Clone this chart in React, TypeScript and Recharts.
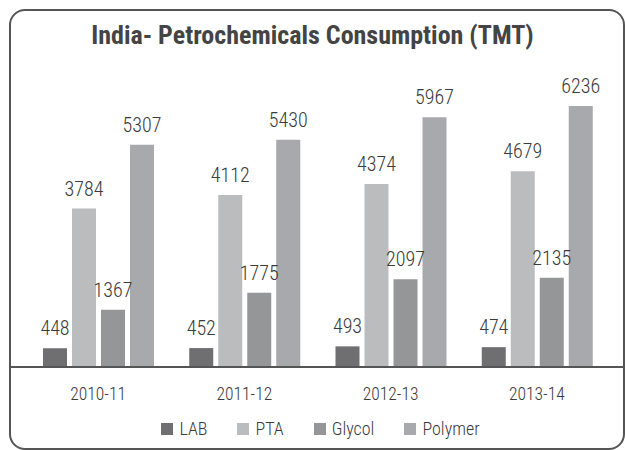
import { BarChart, Bar, XAxis, YAxis, LabelList } from "recharts";

const years = ["2010-11", "2011-12", "2012-13", "2013-14"];
const lab = [448, 452, 493, 474];
const pta = [3784, 4112, 4374, 4679];
const glycol = [1367, 1775, 2097, 2135];
const polymer = [5307, 5430, 5967, 6236];

const seriesNames = ["LAB", "PTA", "Glycol", "Polymer"];
const seriesColors = ["#6f6f71", "#bbbcbe", "#959698", "#a8a9ac"];

const data = years.map((y, i) => ({
  year: y,
  LAB: lab[i],
  PTA: pta[i],
  Glycol: glycol[i],
  Polymer: polymer[i],
}));

const FONT = "'Liberation Sans Narrow', 'Roboto Condensed', 'DejaVu Sans Condensed', sans-serif";

function LegendRow() {
  return (
    <div style={{ display: "flex", justifyContent: "center", fontFamily: FONT, fontSize: 18, fontWeight: 300, color: "#3a3a3a" }}>
      {seriesNames.map((n, i) => (
        <div key={n} style={{ display: "flex", alignItems: "center", marginRight: i < 3 ? 30 : 0 }}>
          <span style={{ width: 12, height: 12, background: seriesColors[i], marginRight: 6, display: "inline-block" }} />
          <span>{n}</span>
        </div>
      ))}
    </div>
  );
}

export default function App() {
  return (
    <div style={{ position: "absolute", left: 0, top: 0, width: 625, height: 450, background: "#fff" }}>
      <div
        style={{
          position: "absolute",
          left: 9,
          top: 9,
          width: 616,
          height: 441,
          border: "2px solid #555",
          borderRadius: 16,
          boxSizing: "border-box",
        }}
      />
      <div
        style={{
          position: "absolute",
          left: 0,
          top: 21,
          width: 625,
          textAlign: "center",
          fontFamily: FONT,
          fontWeight: "bold",
          fontSize: 26,
          lineHeight: "28px",
          color: "#444",
        }}
      >
        India- Petrochemicals Consumption (TMT)
      </div>
      <div style={{ position: "absolute", left: 0, top: 0 }}>
        <BarChart
          width={625}
          height={450}
          data={data}
          margin={{ top: 74, right: 1, left: 10, bottom: 0 }}
          barSize={24}
          barGap={5}
        >
          <XAxis
            dataKey="year"
            padding={{ left: 15, right: 14 }}
            axisLine={{ stroke: "#555", strokeWidth: 2 }}
            tickLine={false}
            tickMargin={15}
            height={83}
            tick={{ fontFamily: FONT, fontSize: 17.5, fontWeight: 300, fill: "#3a3a3a" }}
          />
          <YAxis hide domain={[0, 7000]} />
          {seriesNames.map((n, i) => (
            <Bar key={n} dataKey={n} fill={seriesColors[i]} isAnimationActive={false}>
              <LabelList
                dataKey={n}
                position="top"
                offset={13}
                style={{ fontFamily: FONT, fontSize: 20, fontWeight: 300, fill: "#3a3a3a" }}
              />
            </Bar>
          ))}
        </BarChart>
      </div>
      <div style={{ position: "absolute", left: 8, top: 418, width: 625 }}>
        <LegendRow />
      </div>
    </div>
  );
}
